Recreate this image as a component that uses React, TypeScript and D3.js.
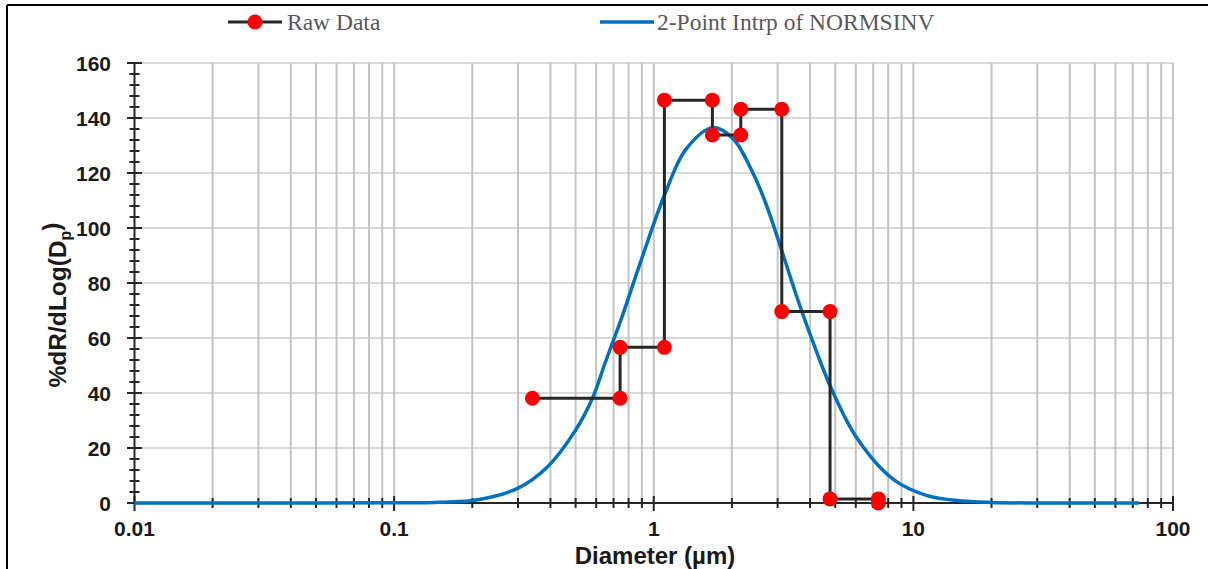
import React, { useEffect, useRef } from "react";
import * as d3 from "d3";

// raw step data (diameter in µm, %dR/dLog(Dp))
const rawDiameter = [0.341, 0.742, 0.742, 1.099, 1.099, 1.682, 1.682, 2.164, 2.164, 3.113, 3.113, 4.776, 4.776, 7.33, 7.33];
const rawValue = [38.1, 38.1, 56.6, 56.6, 146.5, 146.5, 133.8, 133.8, 143.2, 143.2, 69.6, 69.6, 1.5, 1.5, 0];

// fitted curve
const fitDiameter = [0.01, 0.05, 0.1, 0.15, 0.21, 0.3, 0.39, 0.5, 0.58, 0.65, 0.704, 0.76, 0.88, 1.1, 1.33, 1.69, 2.02, 2.41, 2.7, 3.01, 3.55, 4.05, 4.77, 6.04, 8.37, 11.3, 15.1, 20, 30, 74];
const fitValue = [0, 0, 0.05, 0.3, 1.2, 5.4, 13.2, 26.5, 38, 51, 59.9, 68.5, 86.3, 112, 128.6, 136.5, 132.5, 120, 109, 96, 75.2, 60, 42.8, 23.8, 8.6, 2.7, 0.8, 0.2, 0, 0];

const xTickLabels = ["0.01", "0.1", "1", "10", "100"];
const yTicks = [0, 20, 40, 60, 80, 100, 120, 140, 160];
const legendLabels = ["Raw Data", "2-Point Intrp of NORMSINV"];

const W = 1208;
const H = 569;

export default function App() {
  const ref = useRef<SVGSVGElement>(null);

  useEffect(() => {
    const svg = d3.select(ref.current);
    svg.selectAll("*").remove();

    const x = d3.scaleLog().domain([0.01, 100]).range([134.5, 1173]);
    const y = d3.scaleLinear().domain([0, 160]).range([503, 63]);

    // outer frame (left and top edges only visible)
    svg.append("line").attr("x1", 7).attr("x2", 7).attr("y1", 5).attr("y2", H).attr("stroke", "#000").attr("stroke-width", 2);
    svg.append("line").attr("x1", 7).attr("x2", W).attr("y1", 5).attr("y2", 5).attr("stroke", "#000").attr("stroke-width", 2);

    // minor/major positions on the log axis
    const logTicks: number[] = [];
    for (let e = -2; e < 2; e++) {
      for (let m = 1; m < 10; m++) logTicks.push(m * Math.pow(10, e));
    }
    logTicks.push(100);
    const isMajor = (d: number) => Math.abs(Math.log10(d) - Math.round(Math.log10(d))) < 1e-6;

    // horizontal grid
    svg.append("g")
      .selectAll("line")
      .data(yTicks.filter((d) => d > 0))
      .enter()
      .append("line")
      .attr("x1", x(0.01))
      .attr("x2", x(100))
      .attr("y1", (d) => y(d))
      .attr("y2", (d) => y(d))
      .attr("stroke", "#d9d9d9")
      .attr("stroke-width", 2);

    // vertical grid
    svg.append("g")
      .selectAll("line")
      .data(logTicks.filter((d) => d > 0.01))
      .enter()
      .append("line")
      .attr("x1", (d) => x(d))
      .attr("x2", (d) => x(d))
      .attr("y1", y(160))
      .attr("y2", y(0))
      .attr("stroke", "#c4c4c4")
      .attr("stroke-width", 2);

    // y axis
    const yAxis = svg.append("g");
    yAxis.append("line").attr("x1", x(0.01)).attr("x2", x(0.01)).attr("y1", y(160)).attr("y2", y(0)).attr("stroke", "#262626").attr("stroke-width", 2);
    const yMinor = d3.range(0, 161, 4);
    yAxis.selectAll(".mt")
      .data(yMinor)
      .enter()
      .append("line")
      .attr("x1", (d) => x(0.01) - (d % 20 === 0 ? 7.5 : 5))
      .attr("x2", (d) => x(0.01) + (d % 20 === 0 ? 7.5 : 5))
      .attr("y1", (d) => y(d))
      .attr("y2", (d) => y(d))
      .attr("stroke", "#262626")
      .attr("stroke-width", 2);
    yAxis.selectAll("text")
      .data(yTicks)
      .enter()
      .append("text")
      .attr("x", 111)
      .attr("y", (d) => y(d))
      .attr("dy", "0.36em")
      .attr("text-anchor", "end")
      .style("font-family", "'Liberation Sans', Arial, sans-serif")
      .style("font-weight", "bold")
      .style("font-size", "21px")
      .attr("fill", "#1a1a1a")
      .text((d) => d);

    // x axis
    const xAxis = svg.append("g");
    xAxis.append("line").attr("x1", x(0.01)).attr("x2", x(100)).attr("y1", y(0)).attr("y2", y(0)).attr("stroke", "#262626").attr("stroke-width", 2);
    xAxis.selectAll(".mt")
      .data(logTicks)
      .enter()
      .append("line")
      .attr("x1", (d) => x(d))
      .attr("x2", (d) => x(d))
      .attr("y1", (d) => y(0) - (isMajor(d) ? 7 : 5))
      .attr("y2", (d) => y(0) + (isMajor(d) ? 8 : 5))
      .attr("stroke", "#262626")
      .attr("stroke-width", 2);
    xAxis.selectAll("text")
      .data(xTickLabels)
      .enter()
      .append("text")
      .attr("x", (d) => x(+d))
      .attr("y", 528)
      .attr("dy", "0.36em")
      .attr("text-anchor", "middle")
      .style("font-family", "'Liberation Sans', Arial, sans-serif")
      .style("font-weight", "bold")
      .style("font-size", "21px")
      .attr("fill", "#1a1a1a")
      .text((d) => d);

    // axis titles
    svg.append("text")
      .attr("x", 655)
      .attr("y", 555)
      .attr("dy", "0.36em")
      .attr("text-anchor", "middle")
      .style("font-family", "'Liberation Sans', Arial, sans-serif")
      .style("font-weight", "bold")
      .style("font-size", "24px")
      .attr("fill", "#1a1a1a")
      .text("Diameter (µm)");

    const yt = svg.append("text")
      .attr("transform", "translate(57,305) rotate(-90)")
      .attr("text-anchor", "middle")
      .attr("dy", "0.36em")
      .style("font-family", "'Liberation Sans', Arial, sans-serif")
      .style("font-weight", "bold")
      .style("font-size", "24.5px")
      .attr("fill", "#1a1a1a");
    yt.append("tspan").text("%dR/dLog(D");
    yt.append("tspan").attr("dy", "0.3em").style("font-size", "16px").text("p");
    yt.append("tspan").attr("dy", "-0.45em").text(")");

    // fitted curve
    const fit = fitDiameter.map((d, i) => [d, fitValue[i]] as [number, number]);
    const line = d3.line<[number, number]>()
      .x((d) => x(d[0]))
      .y((d) => y(d[1]))
      .curve(d3.curveCatmullRom.alpha(0.5));
    svg.append("path")
      .attr("d", line(fit))
      .attr("fill", "none")
      .attr("stroke", "#0070c0")
      .attr("stroke-width", 3.5);

    // raw data steps
    const raw = rawDiameter.map((d, i) => [d, rawValue[i]] as [number, number]);
    const rawLine = d3.line<[number, number]>()
      .x((d) => x(d[0]))
      .y((d) => y(d[1]));
    svg.append("path")
      .attr("d", rawLine(raw))
      .attr("fill", "none")
      .attr("stroke", "#262626")
      .attr("stroke-width", 3);
    svg.append("g")
      .selectAll("circle")
      .data(raw)
      .enter()
      .append("circle")
      .attr("cx", (d) => x(d[0]))
      .attr("cy", (d) => y(d[1]))
      .attr("r", 7.5)
      .attr("fill", "#ff0000");

    // legend
    const lg = svg.append("g");
    lg.append("line").attr("x1", 228).attr("x2", 282).attr("y1", 22).attr("y2", 22).attr("stroke", "#262626").attr("stroke-width", 3);
    lg.append("circle").attr("cx", 255).attr("cy", 22).attr("r", 7.5).attr("fill", "#ff0000");
    lg.append("line").attr("x1", 600).attr("x2", 654).attr("y1", 22).attr("y2", 22).attr("stroke", "#0070c0").attr("stroke-width", 3.5);
    lg.selectAll("text")
      .data(legendLabels)
      .enter()
      .append("text")
      .attr("x", (d, i) => (i === 0 ? 287 : 657))
      .attr("y", 22)
      .attr("dy", "0.33em")
      .style("font-family", "'Liberation Serif', 'Times New Roman', serif")
      .style("font-size", "23.5px")
      .attr("fill", "#595959")
      .text((d) => d);
  }, []);

  return (
    <svg
      ref={ref}
      width={W}
      height={H}
      style={{ position: "absolute", left: 0, top: 0, background: "#fff" }}
    />
  );
}
